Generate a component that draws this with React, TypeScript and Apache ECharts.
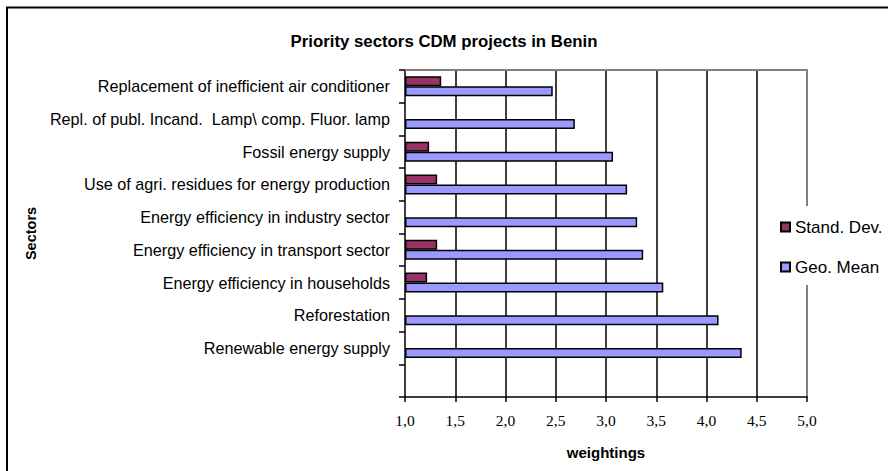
import React, { useEffect, useRef } from "react";
import * as echarts from "echarts";

const categories: string[] = [
  "",
  "Renewable energy supply",
  "Reforestation",
  "Energy efficiency in households",
  "Energy efficiency in transport sector",
  "Energy efficiency in industry sector",
  "Use of agri. residues for energy production",
  "Fossil energy supply",
  "Repl. of publ. Incand.  Lamp\\ comp. Fluor. lamp",
  "Replacement of inefficient air conditioner",
];

const standDev: (number | null)[] = [null, null, null, 1.22, 1.32, null, 1.32, 1.24, null, 1.36];
const geoMean: (number | null)[] = [null, 4.35, 4.12, 3.57, 3.37, 3.31, 3.21, 3.07, 2.69, 2.47];

const xTickValues: number[] = [1.0, 1.5, 2.0, 2.5, 3.0, 3.5, 4.0, 4.5, 5.0];
const xTickLabels: string[] = ["1,0", "1,5", "2,0", "2,5", "3,0", "3,5", "4,0", "4,5", "5,0"];

const SANS = "'Liberation Sans', Arial, sans-serif";
const SERIF = "'Liberation Serif', 'Times New Roman', serif";

export default function App() {
  const ref = useRef<HTMLDivElement>(null);
  useEffect(() => {
    if (!ref.current) return;
    const chart = echarts.init(ref.current, null, { renderer: "svg" });
    const labelFor = (v: number) => {
      const i = xTickValues.findIndex((t) => Math.abs(t - v) < 1e-6);
      return i >= 0 ? xTickLabels[i] : "";
    };
    chart.setOption({
      animation: false,
      backgroundColor: "#ffffff",
      title: {
        text: "Priority sectors CDM projects in Benin",
        left: "center",
        top: 28,
        textStyle: { fontFamily: SANS, fontSize: 16.8, fontWeight: "bold", color: "#000" },
      },
      graphic: [
        {
          type: "rect",
          shape: { x: 7, y: 7.5, width: 1000, height: 1000 },
          style: { fill: "none", stroke: "#000", lineWidth: 2 },
          z: 100,
          silent: true,
        },
      ],
      legend: {
        orient: "vertical",
        left: 770,
        top: 206,
        padding: [11, 10, 8, 10],
        backgroundColor: "#ffffff",
        itemWidth: 9,
        itemHeight: 9,
        itemGap: 20,
        icon: "rect",
        data: ["Stand. Dev.", "Geo. Mean"],
        textStyle: { fontFamily: SANS, fontSize: 17, color: "#000", lineHeight: 20 },
        z: 10,
      },
      grid: { left: 405, top: 70, width: 402, height: 327 },
      xAxis: [
        {
          type: "value",
          min: 1,
          max: 5,
          interval: 0.5,
          startValue: 1,
          position: "bottom",
          name: "weightings",
          nameLocation: "middle",
          nameGap: 48,
          nameTextStyle: { fontFamily: SANS, fontSize: 15, fontWeight: "bold", color: "#000" },
          axisLine: { show: true, lineStyle: { color: "#000", width: 1.5 } },
          axisTick: { show: true, length: 5, lineStyle: { color: "#000", width: 1.5 } },
          axisLabel: {
            margin: 15,
            fontFamily: SERIF,
            fontSize: 15.5,
            color: "#000",
            formatter: (v: number) => labelFor(v),
          },
          splitLine: {
            show: true,
            showMinLine: false,
            showMaxLine: false,
            lineStyle: { color: "#000", width: 1.5 },
          },
        },
        {
          type: "value",
          min: 1,
          max: 5,
          interval: 0.5,
          position: "top",
          axisLine: { show: true, onZero: false, lineStyle: { color: "#808080", width: 2 } },
          axisTick: { show: false },
          axisLabel: { show: false },
          splitLine: { show: false },
        },
      ],
      yAxis: [
        {
          type: "category",
          data: categories,
          name: "Sectors",
          nameLocation: "middle",
          nameGap: 367,
          nameRotate: 90,
          nameTextStyle: { fontFamily: SANS, fontSize: 14.5, fontWeight: "bold", color: "#000" },
          axisLine: { show: true, lineStyle: { color: "#000", width: 1.5 } },
          axisTick: { show: true, length: 6, lineStyle: { color: "#000", width: 1.5 } },
          axisLabel: { margin: 15, fontFamily: SANS, fontSize: 16.2, color: "#000", interval: 0 },
        },
        {
          type: "category",
          data: categories,
          position: "right",
          axisLine: { show: true, onZero: false, lineStyle: { color: "#808080", width: 2 } },
          axisTick: { show: false },
          axisLabel: { show: false },
          splitLine: { show: false },
        },
      ],
      series: [
        {
          name: "Stand. Dev.",
          type: "bar",
          xAxisIndex: 0,
          yAxisIndex: 0,
          data: standDev,
          barWidth: 10,
          barGap: "0%",
          itemStyle: { color: "#993366", borderColor: "#000", borderWidth: 1.5 },
        },
        {
          name: "Geo. Mean",
          type: "bar",
          xAxisIndex: 0,
          yAxisIndex: 0,
          data: geoMean,
          barWidth: 10,
          barGap: "0%",
          itemStyle: { color: "#9999FF", borderColor: "#000", borderWidth: 1.5 },
        },
      ],
    });
    return () => chart.dispose();
  }, []);
  return (
    <div
      ref={ref}
      style={{ position: "fixed", left: 0, top: 0, width: 888, height: 471, background: "#fff" }}
    />
  );
}
